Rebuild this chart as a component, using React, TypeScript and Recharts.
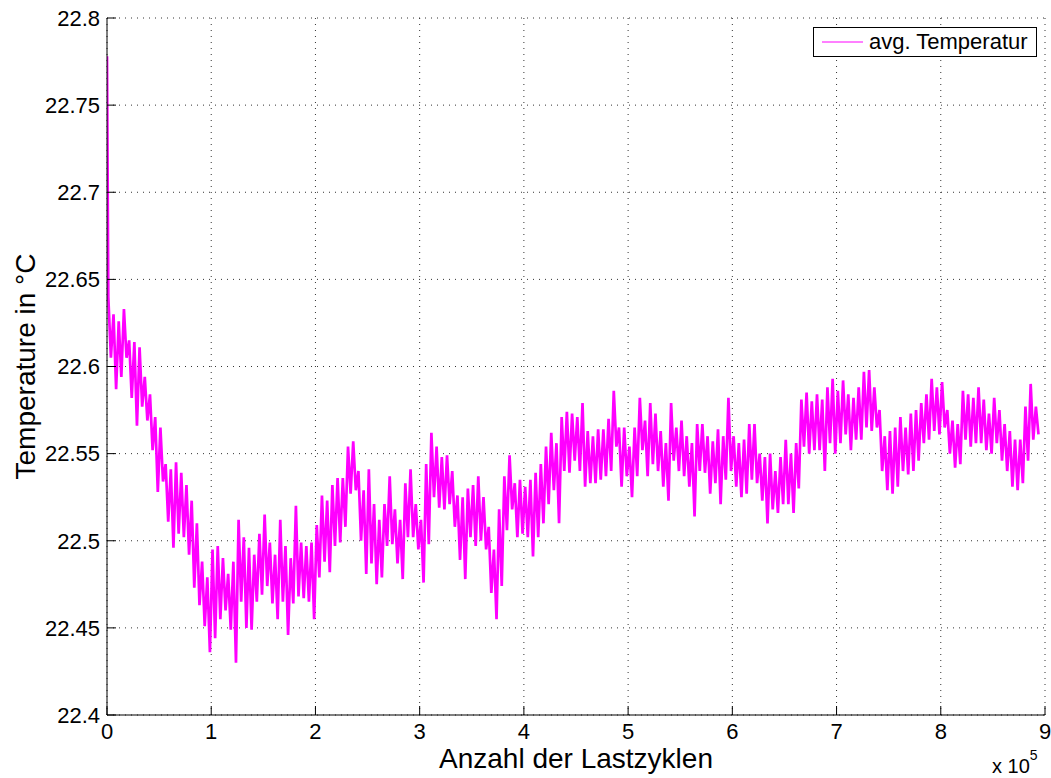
import React from 'react';
import { LineChart, Line, XAxis, YAxis, CartesianGrid, Legend, Label } from 'recharts';

const FONT = '"Liberation Sans", Arial, Helvetica, sans-serif';

// Sampling: each bin spans 5000 load cycles; the trace swings between
// the bin's upper and lower temperature reading.
const BIN_CYCLES = 5000;
const firstCycle = 0;
const firstTemp = 22.778;

const upperBand = [
  22.640, 22.630, 22.626, 22.633, 22.615, 22.614, 22.611, 22.594, 22.584, 22.571,
  22.565, 22.544, 22.541, 22.545, 22.539, 22.532, 22.523, 22.510, 22.488, 22.479,
  22.495, 22.497, 22.490, 22.481, 22.488, 22.512, 22.502, 22.496, 22.492, 22.504,
  22.515, 22.499, 22.492, 22.512, 22.497, 22.490, 22.520, 22.499, 22.497, 22.499,
  22.509, 22.526, 22.523, 22.532, 22.536, 22.536, 22.554, 22.557, 22.540, 22.529,
  22.541, 22.521, 22.512, 22.521, 22.537, 22.518, 22.512, 22.533, 22.541, 22.521,
  22.512, 22.544, 22.562, 22.554, 22.548, 22.549, 22.540, 22.526, 22.525, 22.530,
  22.532, 22.537, 22.525, 22.508, 22.495, 22.518, 22.537, 22.549, 22.533, 22.535,
  22.531, 22.535, 22.539, 22.544, 22.554, 22.562, 22.556, 22.571, 22.574, 22.573,
  22.571, 22.579, 22.563, 22.560, 22.564, 22.564, 22.570, 22.586, 22.565, 22.565,
  22.554, 22.565, 22.582, 22.569, 22.579, 22.573, 22.563, 22.556, 22.579, 22.565,
  22.569, 22.560, 22.556, 22.567, 22.567, 22.560, 22.557, 22.564, 22.560, 22.582,
  22.560, 22.556, 22.558, 22.567, 22.567, 22.550, 22.548, 22.550, 22.540, 22.548,
  22.558, 22.550, 22.556, 22.581, 22.585, 22.580, 22.584, 22.581, 22.588, 22.593,
  22.586, 22.592, 22.584, 22.582, 22.588, 22.597, 22.598, 22.588, 22.575, 22.560,
  22.563, 22.565, 22.571, 22.565, 22.573, 22.575, 22.579, 22.584, 22.593, 22.588,
  22.591, 22.575, 22.569, 22.567, 22.586, 22.584, 22.582, 22.588, 22.581, 22.573,
  22.582, 22.575, 22.567, 22.563, 22.558, 22.558, 22.577, 22.590, 22.577,
];

const lowerBand = [
  22.605, 22.587, 22.594, 22.605, 22.582, 22.566, 22.577, 22.569, 22.552, 22.528,
  22.534, 22.511, 22.496, 22.504, 22.502, 22.492, 22.473, 22.463, 22.451, 22.436,
  22.444, 22.455, 22.460, 22.449, 22.430, 22.465, 22.450, 22.449, 22.465, 22.469,
  22.474, 22.464, 22.455, 22.465, 22.446, 22.464, 22.468, 22.467, 22.465, 22.455,
  22.479, 22.488, 22.482, 22.497, 22.499, 22.508, 22.527, 22.529, 22.500, 22.481,
  22.487, 22.475, 22.479, 22.497, 22.498, 22.487, 22.478, 22.502, 22.502, 22.495,
  22.476, 22.498, 22.525, 22.519, 22.518, 22.521, 22.508, 22.489, 22.478, 22.502,
  22.497, 22.500, 22.495, 22.470, 22.455, 22.474, 22.506, 22.518, 22.502, 22.504,
  22.502, 22.491, 22.502, 22.510, 22.521, 22.529, 22.510, 22.540, 22.539, 22.546,
  22.540, 22.531, 22.533, 22.533, 22.535, 22.537, 22.540, 22.554, 22.531, 22.537,
  22.525, 22.537, 22.552, 22.537, 22.544, 22.540, 22.531, 22.523, 22.546, 22.540,
  22.537, 22.531, 22.514, 22.540, 22.539, 22.527, 22.533, 22.521, 22.535, 22.540,
  22.531, 22.525, 22.527, 22.535, 22.533, 22.523, 22.510, 22.518, 22.516, 22.521,
  22.521, 22.516, 22.530, 22.554, 22.550, 22.552, 22.552, 22.540, 22.556, 22.550,
  22.556, 22.561, 22.552, 22.558, 22.558, 22.565, 22.563, 22.565, 22.540, 22.529,
  22.527, 22.531, 22.540, 22.538, 22.540, 22.546, 22.556, 22.558, 22.563, 22.561,
  22.565, 22.550, 22.542, 22.544, 22.558, 22.554, 22.556, 22.556, 22.552, 22.550,
  22.556, 22.546, 22.540, 22.531, 22.529, 22.533, 22.546, 22.558, 22.561,
];

const xTicks = [0, 100000, 200000, 300000, 400000, 500000, 600000, 700000, 800000, 900000];
const yTicks = [22.4, 22.45, 22.5, 22.55, 22.6, 22.65, 22.7, 22.75, 22.8];

const seriesName = 'avg. Temperatur';
const xLabel = 'Anzahl der Lastzyklen';
const yLabel = 'Temperature in °C';

const series: { cycle: number; temp: number }[] = [{ cycle: firstCycle, temp: firstTemp }];
upperBand.forEach((hi, i) => {
  series.push({ cycle: i * BIN_CYCLES + BIN_CYCLES * 0.25, temp: hi });
  series.push({ cycle: i * BIN_CYCLES + BIN_CYCLES * 0.75, temp: lowerBand[i] });
});

const tickStyle = { fontSize: 22, fill: '#000', fontFamily: FONT };

const LegendBox = (props: any) => {
  const item = props.payload && props.payload[0];
  return (
    <div
      style={{
        width: 224,
        height: 30,
        border: '1px solid #000',
        background: '#fff',
        boxSizing: 'border-box',
        display: 'flex',
        alignItems: 'center',
        fontFamily: FONT,
        fontSize: 22,
        color: '#000',
      }}
    >
      <svg width={55} height={28} style={{ display: 'block' }}>
        <line x1={8} x2={49} y1={14} y2={14} stroke={item ? item.color : '#ff00ff'} strokeWidth={1} />
      </svg>
      <span style={{ whiteSpace: 'nowrap', lineHeight: '28px' }}>{item ? item.value : seriesName}</span>
    </div>
  );
};

export default function App() {
  return (
    <div style={{ position: 'absolute', left: 0, top: 0, width: 1051, height: 778, background: '#fff' }}>
      <LineChart width={1051} height={778} data={series} margin={{ top: 18, right: 6, bottom: 0, left: 0 }}>
        <CartesianGrid stroke="#333" strokeDasharray="1 5" strokeWidth={1} />
        <XAxis
          dataKey="cycle"
          type="number"
          domain={[0, 900000]}
          ticks={xTicks}
          allowDataOverflow
          height={63}
          tickSize={-9}
          tickMargin={17}
          tick={tickStyle}
          tickFormatter={(v: number) => String(Math.round(v / 100000))}
          axisLine={{ stroke: '#000', strokeWidth: 1 }}
          tickLine={{ stroke: '#000', strokeWidth: 1 }}
        >
          <Label
            content={(p: any) => {
              const vb = p.viewBox;
              return (
                <text x={vb.x + vb.width / 2} y={vb.y + 53} textAnchor="middle" fontSize={28} fontFamily={FONT} fill="#000">
                  {xLabel}
                </text>
              );
            }}
          />
          <Label
            content={(p: any) => {
              const vb = p.viewBox;
              return (
                <text x={vb.x + vb.width - 53} y={vb.y + 58} fontSize={20} fontFamily={FONT} fill="#000">
                  x 10
                  <tspan fontSize={14} dy={-13}>5</tspan>
                </text>
              );
            }}
          />
        </XAxis>
        <XAxis
          xAxisId="top"
          orientation="top"
          type="number"
          domain={[0, 900000]}
          ticks={xTicks}
          allowDataOverflow
          height={0}
          tickSize={-9}
          tick={false}
          axisLine={{ stroke: '#000', strokeWidth: 1 }}
          tickLine={{ stroke: '#000', strokeWidth: 1 }}
        />
        <YAxis
          type="number"
          domain={[22.4, 22.8]}
          ticks={yTicks}
          allowDataOverflow
          width={107}
          tickSize={-9}
          tickMargin={16}
          tick={tickStyle}
          tickFormatter={(v: number) => String(Number(v.toFixed(2)))}
          axisLine={{ stroke: '#000', strokeWidth: 1 }}
          tickLine={{ stroke: '#000', strokeWidth: 1 }}
        >
          <Label
            content={(p: any) => {
              const vb = p.viewBox;
              const cx = vb.x + 25;
              const cy = vb.y + vb.height / 2;
              return (
                <text
                  x={cx}
                  y={cy}
                  transform={`rotate(-90 ${cx} ${cy})`}
                  textAnchor="middle"
                  dominantBaseline="central"
                  fontSize={28}
                  fontFamily={FONT}
                  fill="#000"
                >
                  {yLabel}
                </text>
              );
            }}
          />
        </YAxis>
        <YAxis
          yAxisId="right"
          orientation="right"
          type="number"
          domain={[22.4, 22.8]}
          ticks={yTicks}
          allowDataOverflow
          width={0}
          tickSize={-9}
          tick={false}
          axisLine={{ stroke: '#000', strokeWidth: 1 }}
          tickLine={{ stroke: '#000', strokeWidth: 1 }}
        />
        <Legend
          layout="horizontal"
          verticalAlign="middle"
          align="center"
          wrapperStyle={{ top: 27, left: 813, width: 224, height: 30 }}
          content={<LegendBox />}
        />
        <Line
          type="linear"
          dataKey="temp"
          name={seriesName}
          stroke="#ff00ff"
          strokeWidth={2.7}
          strokeLinejoin="miter"
          strokeMiterlimit={2}
          dot={false}
          activeDot={false}
          isAnimationActive={false}
        />
      </LineChart>
    </div>
  );
}
